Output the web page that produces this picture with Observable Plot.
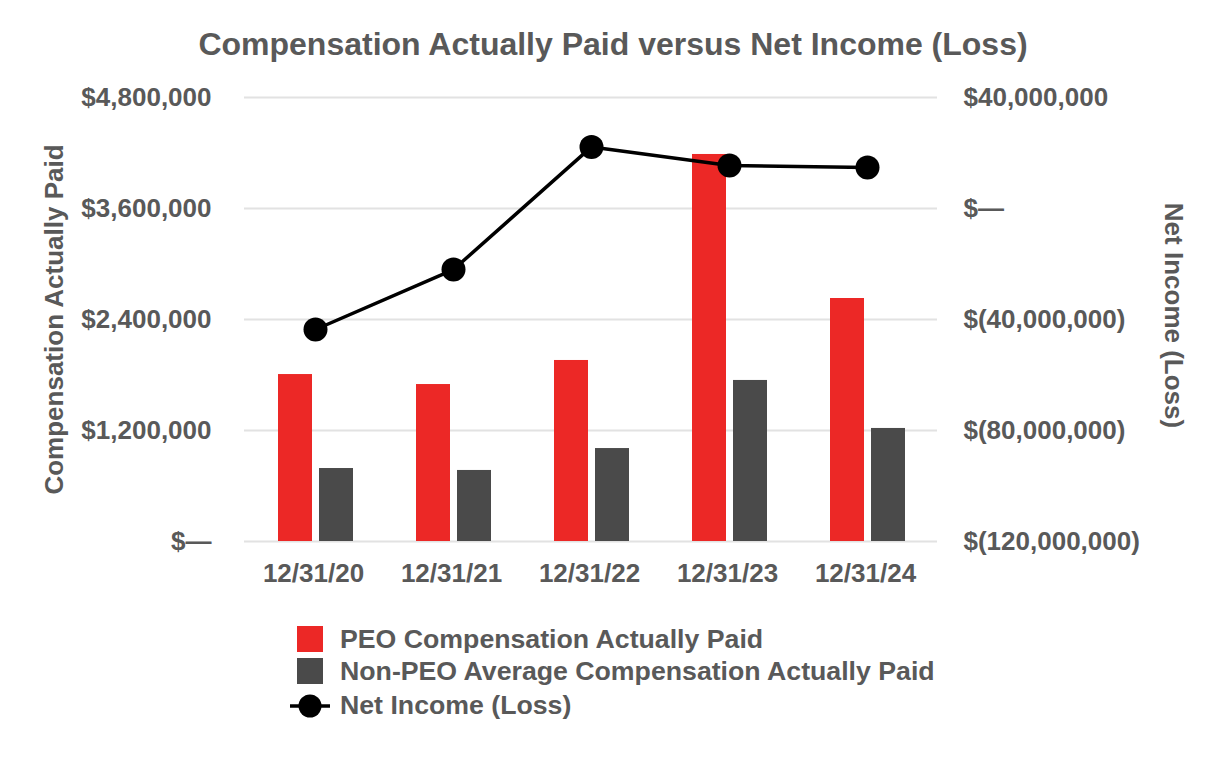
<!DOCTYPE html>
<html><head><meta charset="utf-8">
<script src="https://cdn.jsdelivr.net/npm/d3@7"></script>
<script src="https://cdn.jsdelivr.net/npm/@observablehq/plot@0.6"></script>
<style>
body{margin:0;background:#fff;font-family:"Liberation Sans",Arial,sans-serif;font-weight:bold;color:#595959}
#wrap{position:relative;width:1226px;height:760px;overflow:hidden;background:#fff}
#title{position:absolute;left:0;top:28px;width:1226px;text-align:center;font-size:32px;line-height:32px;white-space:nowrap}
#chart{position:absolute;left:0;top:70px}
.lg{position:absolute;left:288px;height:34px;display:flex;align-items:center;font-size:26.7px;line-height:34px;white-space:nowrap}
.lg .sw{width:44px;height:34px;flex:none;margin-right:8px}
</style></head><body>
<div id="wrap">
  <div id="title">Compensation Actually Paid versus Net Income (Loss)</div>
  <div id="chart"></div>
  <div id="legend"></div>
</div>
<script>
const dates = ["12/31/20", "12/31/21", "12/31/22", "12/31/23", "12/31/24"];
const peoCap = [1805000, 1697000, 1957000, 4184000, 2627000];
const nonPeoCap = [789000, 768000, 1005000, 1741000, 1222000];
const netIncome = [-43600000, -22000000, 22200000, 15500000, 14800000];
const compTicks = [0, 1200000, 2400000, 3600000, 4800000];
const niTicks = [-120000000, -80000000, -40000000, 0, 40000000];
const seriesNames = ["PEO Compensation Actually Paid", "Non-PEO Average Compensation Actually Paid", "Net Income (Loss)"];
const seriesColors = ["#EC2826", "#4A4A4A", "#000000"];

const NI_MIN = niTicks[0], NI_MAX = niTicks[niTicks.length - 1], C_MAX = compTicks[compTicks.length - 1];
const toComp = v => (v - NI_MIN) / (NI_MAX - NI_MIN) * C_MAX;
const fromComp = c => Math.round(c / C_MAX * (NI_MAX - NI_MIN) + NI_MIN);
const num = d3.format(",");
const fmtComp = v => v === 0 ? "$\u2014" : "$" + num(v);
const fmtNI = v => v === 0 ? "$\u2014" : v < 0 ? "$(" + num(-v) + ")" : "$" + num(v);

const rows = dates.map((d, i) => ({date: d, peo: peoCap[i], non: nonPeoCap[i], ni: toComp(netIncome[i])}));
const txt = {fontSize: 26, fontWeight: "bold", fill: "#595959"};

const chart = Plot.plot({
  width: 1226, height: 540,
  marginTop: 27, marginBottom: 69, marginLeft: 244, marginRight: 289,
  style: {fontFamily: '"Liberation Sans", Arial, sans-serif', fontWeight: "bold", fontSize: "26px", color: "#595959", background: "white", overflow: "visible"},
  x: {domain: dates, padding: 0, label: null},
  y: {domain: [0, C_MAX], label: null},
  marks: [
    Plot.gridY(compTicks, {stroke: "#e2e2e2", strokeOpacity: 1, strokeWidth: 2}),
    Plot.axisX({tickSize: 0, tickPadding: 22, label: null, dx: -2, ...txt}),
    Plot.axisY({anchor: "left", ticks: compTicks, tickSize: 0, tickPadding: 33, tickFormat: fmtComp, label: null, ...txt}),
    Plot.axisY({anchor: "right", ticks: niTicks.map(toComp), tickSize: 0, tickPadding: 26, tickFormat: d => fmtNI(fromComp(d)), label: null, ...txt}),
    Plot.barY(rows, {x: "date", y: "peo", fill: seriesColors[0], insetLeft: 32, insetRight: 72}),
    Plot.barY(rows, {x: "date", y: "non", fill: seriesColors[1], insetLeft: 73, insetRight: 31}),
    Plot.line(rows, {x: "date", y: "ni", stroke: seriesColors[2], strokeWidth: 3.5}),
    Plot.dot(rows, {x: "date", y: "ni", r: 12, fill: seriesColors[2], stroke: "none"}),
    Plot.text(["Compensation Actually Paid"], {frameAnchor: "left", textAnchor: "middle", text: d => d, rotate: -90, dx: -190, ...txt}),
    Plot.text(["Net Income (Loss)"], {frameAnchor: "right", textAnchor: "middle", text: d => d, rotate: 90, dx: 236, dy: -4, ...txt})
  ]
});
document.getElementById("chart").appendChild(chart);

// legend
const lg = document.getElementById("legend");
const rowTops = [622, 654, 688];
seriesNames.forEach((name, i) => {
  const row = document.createElement("div");
  row.className = "lg";
  row.style.top = rowTops[i] + "px";
  let sw;
  if (i < 2) {
    sw = `<svg class="sw" width="44" height="34"><rect x="9" y="4" width="26" height="26" fill="${seriesColors[i]}"/></svg>`;
  } else {
    sw = `<svg class="sw" width="44" height="34"><line x1="2" x2="42" y1="18" y2="18" stroke="#000" stroke-width="3.5"/><circle cx="22" cy="18" r="11.5" fill="#000"/></svg>`;
  }
  row.innerHTML = sw + `<span>${name}</span>`;
  lg.appendChild(row);
});
</script>
</body></html>
